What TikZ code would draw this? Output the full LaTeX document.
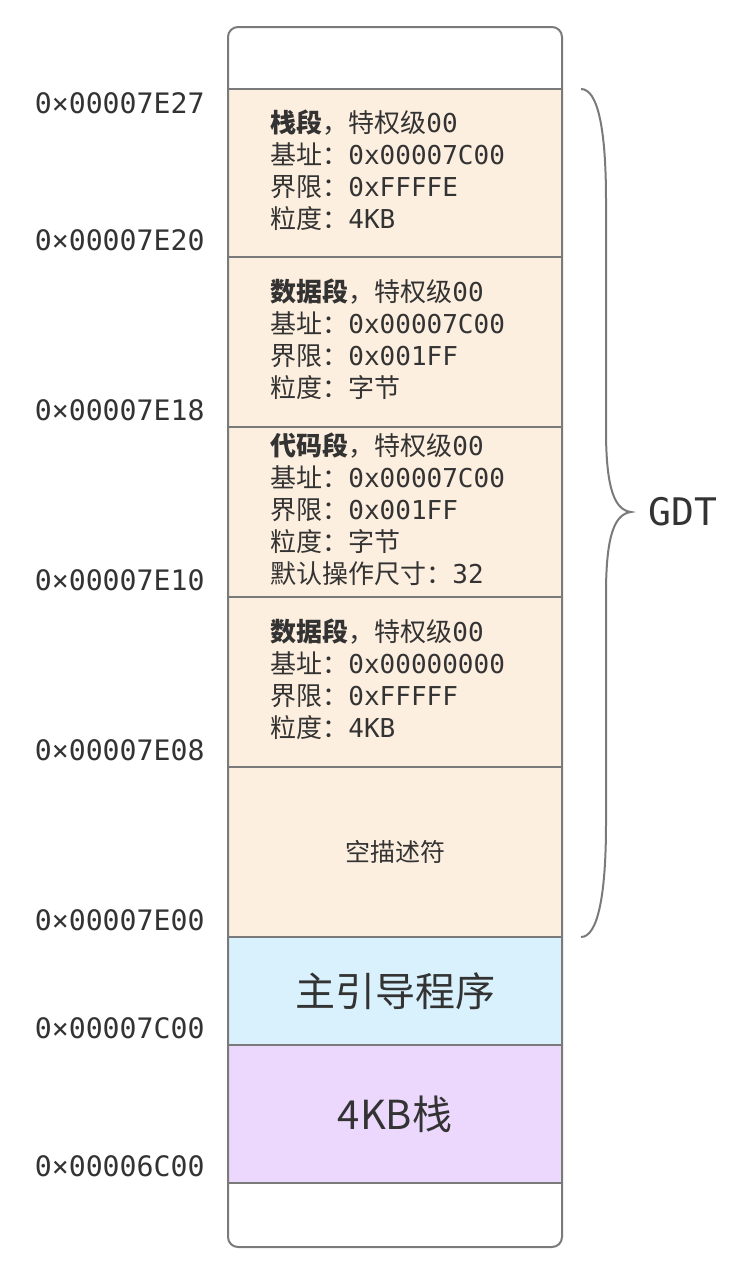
\documentclass[tikz,border=0pt]{standalone}
\usepackage{fontspec}
\setmainfont{DejaVu Sans Mono}
\newfontfamily\cjk{Noto Sans CJK SC}
\usetikzlibrary{positioning}

\definecolor{linegray}{HTML}{7A7A7A}
\definecolor{inkgray}{HTML}{333333}
\definecolor{peach}{HTML}{FDEFDF}
\definecolor{skyblue}{HTML}{D9F1FD}
\definecolor{lilac}{HTML}{ECD8FD}

\newcommand{\segtitle}[1]{{\cjk\bfseries #1}{\cjk ，特权级}00}
\newcommand{\field}[2]{{\cjk #1：}#2}

\begin{document}
\begin{tikzpicture}[
    x=0.5pt, y=-0.5pt,
    node distance=0pt,
    seg/.style={rectangle, draw=linegray, line width=1pt, minimum width=167pt, minimum height=#1, inner sep=0pt, outer sep=0pt},
    info/.style={font=\fontsize{13pt}{16pt}\selectfont, align=left, inner sep=0pt, text=inkgray, yshift=1.5pt},
    addr/.style={font=\fontsize{14.1pt}{16pt}\selectfont, inner sep=0pt, anchor=east, text=inkgray},
    big/.style={font=\cjk\fontsize{20pt}{24pt}\selectfont, text=inkgray}
]
\useasboundingbox (0,0) rectangle (743,1271);

% memory segments, top to bottom
\node [seg=84pt, fill=peach, anchor=north west] (stackseg) at (228,89) {};
\node [seg=85pt, fill=peach, below=of stackseg] (dataseg) {};
\node [seg=85pt, fill=peach, below=of dataseg] (codeseg) {};
\node [seg=85pt, fill=peach, below=of codeseg] (flatseg) {};
\node [seg=85pt, fill=peach, below=of flatseg] (nullseg) {};
\node [seg=54pt, fill=skyblue, below=of nullseg] (bootseg) {};
\node [seg=69pt, fill=lilac, below=of bootseg] (stack4k) {};

\draw [linegray, line width=1pt, rounded corners=5pt] (228,27) rectangle (562,1247);

% descriptor texts
\node [info, anchor=west, right=21pt of stackseg.west] (stacktxt) {\segtitle{栈段}\\ \field{基址}{0x00007C00}\\ \field{界限}{0xFFFFE}\\ \field{粒度}{4KB}};
\node [info, anchor=west, right=21pt of dataseg.west] (datatxt) {\segtitle{数据段}\\ \field{基址}{0x00007C00}\\ \field{界限}{0x001FF}\\ \field{粒度}{{\cjk 字节}}};
\node [info, anchor=west, right=21pt of codeseg.west] (codetxt) {\segtitle{代码段}\\ \field{基址}{0x00007C00}\\ \field{界限}{0x001FF}\\ \field{粒度}{{\cjk 字节}}\\ \field{默认操作尺寸}{32}};
\node [info, anchor=west, right=21pt of flatseg.west] (flattxt) {\segtitle{数据段}\\ \field{基址}{0x00000000}\\ \field{界限}{0xFFFFF}\\ \field{粒度}{4KB}};
\node [font=\cjk\fontsize{12.5pt}{15pt}\selectfont, text=inkgray] (nulltxt) at (nullseg) {空描述符};
\node [big] (boottxt) at (bootseg) {主引导程序};
\node [big] (stacktxt4k) at (stack4k) {4KB栈};

% addresses
\foreach \y/\a in {103/7E27, 240/7E20, 410/7E18, 580/7E10, 750/7E08, 920/7E00, 1028/7C00, 1166/6C00}
  \node [addr] (addr\a) at (205,\y) {0×0000\a};

% GDT brace
\coordinate (btop) at (581,89);
\coordinate (bbot) at (581,937);
\coordinate (btip) at (631,512);
\draw [linegray, line width=1pt] (btop) .. controls (598,89) and (606,130) .. (606,200) -- (606,430)
  .. controls (606,490) and (615,510) .. (btip)
  .. controls (615,514) and (606,534) .. (606,594) -- (606,824)
  .. controls (606,894) and (598,937) .. (bbot);
\node [right=8.5pt of btip, inner sep=0pt, font=\fontsize{19pt}{22pt}\selectfont, text=inkgray] (gdt) {GDT};

\end{tikzpicture}
\end{document}
